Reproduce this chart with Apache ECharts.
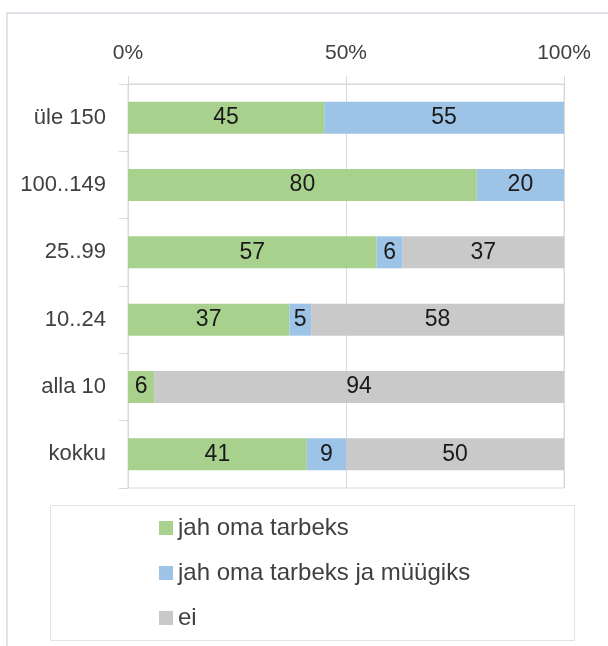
<!DOCTYPE html>
<html>
<head>
<meta charset="utf-8">
<script src="https://cdn.jsdelivr.net/npm/echarts@6/dist/echarts.min.js"></script>
<style>html,body{margin:0;padding:0;background:#fff}#c{width:608px;height:646px}</style>
</head>
<body>
<div id="c"></div>
<script>
var categories = ['üle 150', '100..149', '25..99', '10..24', 'alla 10', 'kokku'];
var seriesNames = ['jah oma tarbeks', 'jah oma tarbeks ja müügiks', 'ei'];
var ownUse = [45, 80, 57, 37, 6, 41];
var ownUseAndSale = [55, 20, 6, 5, 0, 9];
var no = [0, 0, 37, 58, 94, 50];
var xTicks = [0, 50, 100];
var colors = ['#a9d18e', '#9dc3e6', '#c9c9c9'];
var FONT = '"Liberation Sans", Arial, sans-serif';

function mk(name, data, color) {
  return {
    name: name, type: 'bar', stack: 'all', data: data, barWidth: 32,
    itemStyle: { color: color },
    label: {
      show: true, position: 'inside', color: '#1a1a1a', fontSize: 23, fontFamily: FONT,
      formatter: function (p) { return p.value === 0 ? '' : String(p.value); }
    }
  };
}

var chart = echarts.init(document.getElementById('c'), null, { renderer: 'canvas' });
chart.setOption({
  animation: false,
  textStyle: { fontFamily: FONT },
  graphic: [
    { type: 'rect', shape: { x: 7, y: 13, width: 640, height: 700 }, style: { fill: 'none', stroke: '#d6dbe3', lineWidth: 1.5 }, z: 0 },
    { type: 'rect', shape: { x: 50.5, y: 505.5, width: 524, height: 135 }, style: { fill: 'none', stroke: '#e3e3e3', lineWidth: 1 }, z: 0 }
  ],
  grid: { left: 128, right: 44, top: 84, bottom: 158, show: true, borderColor: '#d9d9d9', borderWidth: 1 },
  xAxis: {
    type: 'value', position: 'top', min: xTicks[0], max: xTicks[xTicks.length - 1], interval: 50,
    axisLine: { show: true, lineStyle: { color: '#d9d9d9' } },
    axisTick: { show: true, length: 8, lineStyle: { color: '#d9d9d9' } },
    splitLine: { show: true, lineStyle: { color: '#d9d9d9' } },
    axisLabel: { formatter: '{value}%', color: '#404040', fontSize: 21, margin: 20 }
  },
  yAxis: {
    type: 'category', data: categories, inverse: true,
    axisLine: { show: true, lineStyle: { color: '#d9d9d9' } },
    axisTick: { show: true, length: 9, lineStyle: { color: '#d9d9d9' } },
    axisLabel: { color: '#404040', fontSize: 22, margin: 22 }
  },
  legend: {
    orient: 'vertical', left: 154, top: 511, itemWidth: 14, itemHeight: 14, itemGap: 21,
    icon: 'rect',
    textStyle: { color: '#404040', fontSize: 24, lineHeight: 24, fontFamily: FONT },
    data: seriesNames
  },
  series: [
    mk(seriesNames[0], ownUse, colors[0]),
    mk(seriesNames[1], ownUseAndSale, colors[1]),
    mk(seriesNames[2], no, colors[2])
  ]
});
</script>
</body>
</html>
